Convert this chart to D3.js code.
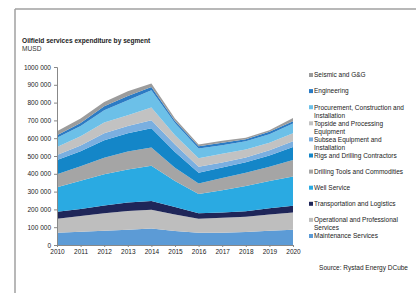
<!DOCTYPE html>
<html><head><meta charset="utf-8">
<script src="https://cdn.jsdelivr.net/npm/d3@7"></script>
<style>body{margin:0;background:#fff}svg{display:block}text{font-family:"Liberation Sans",Arial,sans-serif}</style>
</head><body><svg id="c" width="416" height="295"></svg>
<script>
const years = [2010,2011,2012,2013,2014,2015,2016,2017,2018,2019,2020];
const segments = ["Maintenance Services","Operational and Professional Services","Transportation and Logistics","Well Service","Drilling Tools and Commodities","Rigs and Drilling Contractors","Subsea Equipment and Installation","Topside and Processing Equipment","Procurement, Construction and Installation","Engineering","Seismic and G&G"];
const maintenance  = [69000,75000,80000,86000,92000,78000,69000,69000,73000,80000,86000];
const operational  = [79000,88000,99000,105000,106000,94000,79000,84000,86000,92000,97000];
const transport    = [39000,39000,43000,48000,49000,41000,31000,30000,30000,35000,38000];
const wellService  = [138000,159000,176000,185000,198000,146000,107000,125000,142000,152000,164000];
const drillingTools= [73000,82000,92000,101000,103000,75000,60000,68000,75000,80000,92000];
const rigs         = [79000,84000,99000,103000,108000,89000,60000,60000,59000,64000,74000];
const subsea       = [28000,32000,39000,41000,45000,41000,33000,28000,27000,30000,32000];
const topside      = [46000,52000,60000,60000,71000,53000,49000,48000,44000,41000,45000];
const procurement  = [51000,58000,69000,84000,97000,69000,54000,49000,47000,48000,54000];
const engineering  = [15000,17000,22000,24000,19000,11000,13000,13000,11000,14000,13000];
const seismic      = [22000,24000,25000,27000,19000,13000,9000,11000,8000,9000,19000];
const seriesValues = [maintenance,operational,transport,wellService,drillingTools,rigs,subsea,topside,procurement,engineering,seismic];
const colors = ["#5c9bd6","#bebebe","#1f2659","#2aaae2","#a5a5a5","#1486c8","#7aafe0","#c2c2c2","#6cc0e8","#2b7bc4","#9c9c9c"];
const legendLines = {
 "Procurement, Construction and Installation":["Procurement, Construction and","Installation"],
 "Topside and Processing Equipment":["Topside and Processing","Equipment"],
 "Subsea Equipment and Installation":["Subsea Equipment and","Installation"],
 "Operational and Professional Services":["Operational and Professional","Services"]
};
const yTicks = d3.range(0, 1000001, 100000);
const yTickLabels = ["0","100 000","200 000","300 000","400 000","500 000","600 000","700 000","800 000","900 000","1000 000"];

const table = years.map((y,i)=>{const o={year:y}; segments.forEach((s,k)=>o[s]=seriesValues[k][i]); return o;});
const svg = d3.select("#c");
svg.append("line").attr("x1",15).attr("x2",15).attr("y1",9).attr("y2",293).attr("stroke","#a0a0a0").attr("stroke-width",1.5);
svg.append("line").attr("x1",15).attr("x2",416).attr("y1",9).attr("y2",9).attr("stroke","#a0a0a0").attr("stroke-width",1.5);

svg.append("text").attr("x",22).attr("y",43).attr("font-size",6.6).attr("font-weight","bold").attr("fill","#222").text("Oilfield services expenditure by segment");
svg.append("text").attr("x",22).attr("y",51).attr("font-size",6.6).attr("fill","#333").text("MUSD");

const x = d3.scaleLinear().domain([2010,2020]).range([57,293]);
const y = d3.scaleLinear().domain([0,1000000]).range([245,67]);
const stack = d3.stack().keys(segments)(table);
const area = d3.area().x(d=>x(d.data.year)).y0(d=>y(d[0])).y1(d=>y(d[1]));
svg.append("g").selectAll("path").data(stack).join("path").attr("d",area).attr("fill",(d,i)=>colors[i]);

const ya = svg.append("g").attr("transform","translate(57,0)").call(d3.axisLeft(y).tickValues(yTicks).tickFormat((d,i)=>yTickLabels[i]).tickSize(3).tickPadding(3));
const xa = svg.append("g").attr("transform","translate(0,245)").call(d3.axisBottom(x).tickValues(years).tickFormat(d3.format("d")).tickSize(2).tickPadding(2));
[ya,xa].forEach(a=>{a.selectAll("text").attr("font-size",6.5).attr("fill","#222").attr("font-family","Liberation Sans, Arial, sans-serif");a.selectAll("path,line").attr("stroke","#888");});

const lg = svg.append("g");
segments.slice().reverse().forEach((s,i)=>{
  const idx = segments.indexOf(s);
  const yy = 75 + i*16.1;
  lg.append("rect").attr("x",309).attr("y",yy-2).attr("width",4).attr("height",4).attr("fill",colors[idx]);
  const lines = legendLines[s] || [s];
  lines.forEach((l,j)=>lg.append("text").attr("x",314).attr("y",yy+2.3+j*8).attr("font-size",6.5).attr("fill","#222").text(l));
});
svg.append("text").attr("x",408).attr("y",270).attr("text-anchor","end").attr("font-size",6.5).attr("fill","#222").text("Source: Rystad Energy DCube");
</script></body></html>
